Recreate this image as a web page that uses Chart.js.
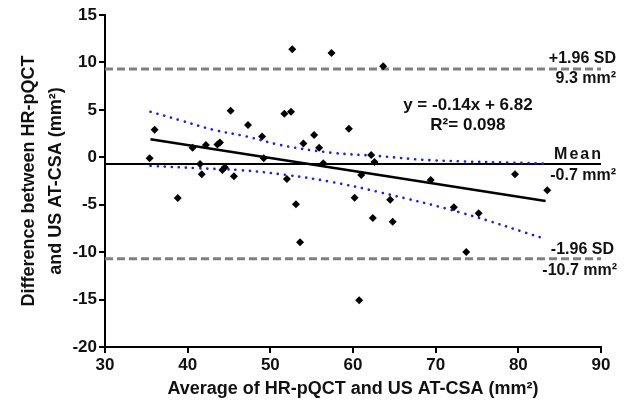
<!DOCTYPE html>
<html>
<head>
<meta charset="utf-8">
<script src="https://cdn.jsdelivr.net/npm/chart.js@4.4.0/dist/chart.umd.min.js"></script>
<style>
    html, body { margin: 0; padding: 0; background: #fff; }
    #wrap { width: 626px; height: 411px; }
</style>
</head>
<body>
<div id="wrap"><canvas id="grafico" width="626" height="411"></canvas></div>
<script>
// valores (média x diferença)
const avgValues = [35.4, 36.0, 38.8, 40.6, 41.5, 41.7, 42.2, 43.6, 43.9, 44.2, 44.5, 45.2, 45.6, 47.3, 49.0,
    49.2, 51.7, 52.0, 52.5, 52.65, 53.1, 53.6, 54.0, 55.3, 55.9, 56.4, 57.4, 59.5, 60.2, 60.75, 61.0, 62.2,
    62.4, 62.6, 63.65, 64.5, 64.8, 69.4, 72.2, 73.7, 75.2, 79.6, 83.5];
const diffValues = [-0.1, 2.9, -4.3, 1.0, -0.7, -1.8, 1.3, 1.35, 1.55, -1.33, -1.05, 4.9, -2.0, 3.4, 2.2,
    -0.1, 4.6, -2.3, 4.8, 11.4, -4.96, -8.96, 1.45, 2.35, 1.0, -0.64, 11.0, 3.0, -4.26, -15.08, -1.87, 0.25,
    -6.4, -0.5, 9.6, -4.47, -6.79, -2.4, -5.27, -9.98, -5.9, -1.8, -3.48];

const regX = [35.5, 83.3];
const regY = [1.9, -4.6];

const upperBandX = [35.5, 39.1, 43.1, 47.1, 51.2, 57.2, 62.9, 69.3, 83.0];
const upperBandY = [4.8, 3.9, 2.9, 2.2, 1.3, 0.5, 0.15, -0.3, -0.65];
const lowerBandX = [35.5, 41.1, 46.3, 52.0, 57.2, 63.3, 73.3, 83.4];
const lowerBandY = [-0.9, -1.15, -1.35, -1.87, -2.57, -3.7, -5.9, -8.65];

const limitX = [30, 90];
const meanDiff = -0.7;
const upperLoA = 9.3;
const lowerLoA = -10.7;

const xTicks = [30, 40, 50, 60, 70, 80, 90];
const yTicks = [-20, -15, -10, -5, 0, 5, 10, 15];

const FONTE = '"Liberation Sans", Arial, sans-serif';

function pares(xs, ys) {
    return xs.map((x, i) => ({ x: x, y: ys[i] }));
}

function linhaHorizontal(valor) {
    return limitX.map(x => ({ x: x, y: valor }));
}

// textos e títulos dos eixos
const textosPlugin = {
    id: 'textos',
    afterDraw(chart) {
        const ctx = chart.ctx;
        const xs = chart.scales.x;
        const ys = chart.scales.y;
        const direita = xs.right + 15;

        ctx.save();
        ctx.fillStyle = '#111';
        ctx.textBaseline = 'middle';
        ctx.font = 'bold 16px ' + FONTE;

        function texto(t, x, y, align, espaco) {
            ctx.textAlign = align;
            ctx.letterSpacing = espaco || '0px';
            ctx.fillText(t, x, y);
        }

        const ySup = ys.getPixelForValue(upperLoA);
        texto('+1.96 SD', direita, ySup - 10, 'right');
        texto('9.3 mm²', direita, ySup + 10, 'right');

        const yMed = ys.getPixelForValue(meanDiff);
        texto('Mean', direita - 13, yMed - 9, 'right', '2px');
        texto('-0.7 mm²', direita, yMed + 12, 'right');

        const yInf = ys.getPixelForValue(lowerLoA);
        texto('-1.96 SD', direita - 2, yInf - 9, 'right');
        texto('-10.7 mm²', direita + 1, yInf + 12, 'right');

        ctx.font = 'bold 17px ' + FONTE;
        const xEq = xs.getPixelForValue(73.9);
        texto('y = -0.14x + 6.82', xEq, ys.getPixelForValue(5.5), 'center');
        texto('R²= 0.098', xEq, ys.getPixelForValue(3.4), 'center');

        // títulos
        ctx.font = 'bold 18px ' + FONTE;
        texto('Average of HR-pQCT and US AT-CSA (mm²)', (xs.left + xs.right) / 2, 389, 'center');

        ctx.translate(0, (ys.top + ys.bottom) / 2);
        ctx.rotate(-Math.PI / 2);
        texto('Difference between HR-pQCT', 0, 29, 'center');
        texto('and US AT-CSA (mm²)', 0, 56, 'center');
        ctx.restore();
    }
};

const linhaTracejada = {
    type: 'line',
    borderColor: '#808080',
    borderWidth: 3,
    borderDash: [8, 4],
    pointRadius: 0,
    fill: false,
    order: 3
};

const bandaPontilhada = {
    type: 'line',
    borderColor: '#1a1aff',
    borderWidth: 2.6,
    borderDash: [0.1, 7],
    borderCapStyle: 'round',
    pointRadius: 0,
    tension: 0.4,
    fill: false,
    order: 2
};

new Chart(document.getElementById('grafico').getContext('2d'), {
    type: 'scatter',
    data: {
        datasets: [
            {
                label: 'Diferença',
                data: pares(avgValues, diffValues),
                pointStyle: 'rectRot',
                pointRadius: 4,
                backgroundColor: '#000',
                borderColor: '#000',
                borderWidth: 0,
                order: 0
            },
            {
                type: 'line',
                label: 'Regressão',
                data: pares(regX, regY),
                borderColor: '#000',
                borderWidth: 2.5,
                pointRadius: 0,
                order: 1
            },
            Object.assign({ label: 'IC superior', data: pares(upperBandX, upperBandY) }, bandaPontilhada),
            Object.assign({ label: 'IC inferior', data: pares(lowerBandX, lowerBandY) }, bandaPontilhada),
            {
                type: 'line',
                label: 'Média',
                data: linhaHorizontal(meanDiff),
                borderColor: '#000',
                borderWidth: 2,
                pointRadius: 0,
                order: 2
            },
            Object.assign({ label: '+1.96 SD', data: linhaHorizontal(upperLoA) }, linhaTracejada),
            Object.assign({ label: '-1.96 SD', data: linhaHorizontal(lowerLoA) }, linhaTracejada)
        ]
    },
    options: {
        responsive: false,
        animation: false,
        layout: { padding: { top: 15, right: 25, left: 0, bottom: 0 } },
        plugins: {
            legend: { display: false },
            tooltip: { enabled: false }
        },
        scales: {
            x: {
                type: 'linear',
                min: 30,
                max: 90,
                afterBuildTicks: scale => { scale.ticks = xTicks.map(v => ({ value: v })); },
                afterFit: scale => { scale.height = 64; },
                border: { display: true, color: '#000', width: 2 },
                grid: { drawOnChartArea: false, drawTicks: true, tickLength: 6, color: '#000', lineWidth: 2 },
                ticks: { color: '#111', font: { family: FONTE, size: 17, weight: 'bold' }, padding: 2, maxRotation: 0 }
            },
            y: {
                type: 'linear',
                min: -20,
                max: 15,
                afterBuildTicks: scale => { scale.ticks = yTicks.map(v => ({ value: v })); },
                afterFit: scale => { scale.width = 105; },
                border: { display: true, color: '#000', width: 2 },
                grid: { drawOnChartArea: false, drawTicks: true, tickLength: 6, color: '#000', lineWidth: 2 },
                ticks: { color: '#111', font: { family: FONTE, size: 17, weight: 'bold' }, padding: 2 }
            }
        }
    },
    plugins: [textosPlugin]
});
</script>
</body>
</html>
